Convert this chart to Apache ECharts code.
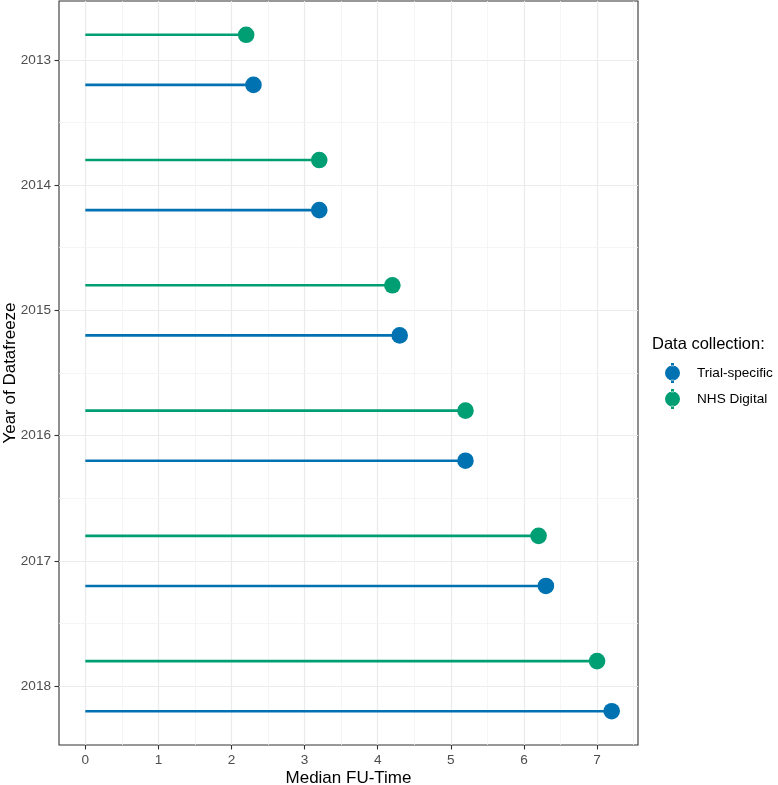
<!DOCTYPE html>
<html>
<head>
<meta charset="utf-8">
<title>Median FU-Time</title>
<script src="https://cdn.jsdelivr.net/npm/echarts@6/dist/echarts.min.js"></script>
<style>
  html, body { margin: 0; padding: 0; background: #fff; }
  #chart { width: 778px; height: 785px; }
</style>
</head>
<body>
<div id="chart"></div>
<script>
// data
var years = [2013, 2014, 2015, 2016, 2017, 2018];
var trialSpecific = [2.3, 3.2, 4.3, 5.2, 6.3, 7.2];
var nhsDigital = [2.2, 3.2, 4.2, 5.2, 6.2, 7.0];
var xTicks = [0, 1, 2, 3, 4, 5, 6, 7];
var xMinor = [0.5, 1.5, 2.5, 3.5, 4.5, 5.5, 6.5, 7.5];
var yTicks = [2013, 2014, 2015, 2016, 2017, 2018];
var yMinor = [2013.5, 2014.5, 2015.5, 2016.5, 2017.5];

var BLUE = '#0072B2', GREEN = '#009E73';
var FONT = '"Liberation Sans", Arial, sans-serif';
var DODGE = 0.2;

function lollipop(color) {
    return function (params, api) {
        var y = api.value(1);
        var start = api.coord([0, y]);
        var end = api.coord([api.value(0), y]);
        return {
            type: 'group',
            children: [
                { type: 'line', shape: { x1: start[0], y1: start[1], x2: end[0], y2: end[1] },
                  style: { stroke: color, lineWidth: 2.6 } },
                { type: 'circle', shape: { cx: end[0], cy: end[1], r: 8.3 },
                  style: { fill: color } }
            ]
        };
    };
}

var trialData = years.map(function (y, i) { return [trialSpecific[i], y + DODGE]; });
var nhsData = years.map(function (y, i) { return [nhsDigital[i], y - DODGE]; });

var minorLines = xMinor.map(function (v) { return { xAxis: v }; })
    .concat(yMinor.map(function (v) { return { yAxis: v }; }));

// point with a vertical stroke, like the ggplot pointrange key
var icon = 'path://M8.2,0h3.6v4h-3.6z M8.2,20h3.6v4h-3.6z M10,3a9,9 0 1,0 0.001,0z';

var chart = echarts.init(document.getElementById('chart'));
var option = {
    backgroundColor: '#fff',
    animation: false,
    textStyle: { fontFamily: FONT },
    title: {
        text: 'Data collection:',
        left: 652, top: 336, padding: 0,
        textStyle: { fontFamily: FONT, fontSize: 16.5, fontWeight: 'normal', color: '#000' }
    },
    legend: {
        orient: 'vertical',
        left: 665, top: 363, padding: 0,
        itemWidth: 15, itemHeight: 20,
        itemGap: 6,
        data: [
            { name: 'Trial-specific', icon: icon },
            { name: 'NHS Digital', icon: icon }
        ],
        textStyle: { fontFamily: FONT, fontSize: 13.6, color: '#000', padding: [0, 0, 0, 12] }
    },
    grid: {
        left: 59, right: 140, top: 1, bottom: 40,
        containLabel: false,
        outerBoundsMode: 'none',
        show: true, borderColor: '#333', borderWidth: 1.1, backgroundColor: 'transparent'
    },
    xAxis: {
        type: 'value',
        min: -0.36, max: 7.56,
        name: 'Median FU-Time',
        nameLocation: 'middle',
        nameGap: 25,
        nameMoveOverlap: false,
        nameTextStyle: { fontFamily: FONT, fontSize: 17, color: '#000' },
        axisLine: { show: false, onZero: false },
        axisTick: { show: true, length: 4.5, customValues: xTicks, lineStyle: { color: '#333', width: 1.1 } },
        axisLabel: { customValues: xTicks, color: '#4d4d4d', fontSize: 13.6, margin: 8, fontFamily: FONT },
        splitLine: { show: true, lineStyle: { color: '#ebebeb', width: 1.2 } }
    },
    yAxis: {
        type: 'value',
        inverse: true,
        min: 2012.53, max: 2018.47,
        name: 'Year of Datafreeze',
        nameLocation: 'middle',
        nameGap: 40,
        nameMoveOverlap: false,
        nameTextStyle: { fontFamily: FONT, fontSize: 17, color: '#000' },
        axisLine: { show: false, onZero: false },
        axisTick: { show: true, length: 4.5, customValues: yTicks, lineStyle: { color: '#333', width: 1.1 } },
        axisLabel: {
            customValues: yTicks, color: '#4d4d4d', fontSize: 13.6, margin: 8, fontFamily: FONT,
            formatter: function (v) { return String(v); }
        },
        splitLine: { show: true, lineStyle: { color: '#ebebeb', width: 1.2 } }
    },
    series: [
        {
            name: 'minor grid',
            type: 'line',
            data: [],
            silent: true,
            z: 0,
            markLine: {
                silent: true,
                symbol: 'none',
                z: 0,
                label: { show: false },
                lineStyle: { type: 'solid', color: '#f2f2f2', width: 0.8 },
                data: minorLines
            }
        },
        {
            name: 'NHS Digital',
            type: 'custom',
            itemStyle: { color: GREEN },
            renderItem: lollipop(GREEN),
            encode: { x: 0, y: 1 },
            data: nhsData,
            z: 10
        },
        {
            name: 'Trial-specific',
            type: 'custom',
            itemStyle: { color: BLUE },
            renderItem: lollipop(BLUE),
            encode: { x: 0, y: 1 },
            data: trialData,
            z: 10
        }
    ]
};
chart.setOption(option);
</script>
</body>
</html>
